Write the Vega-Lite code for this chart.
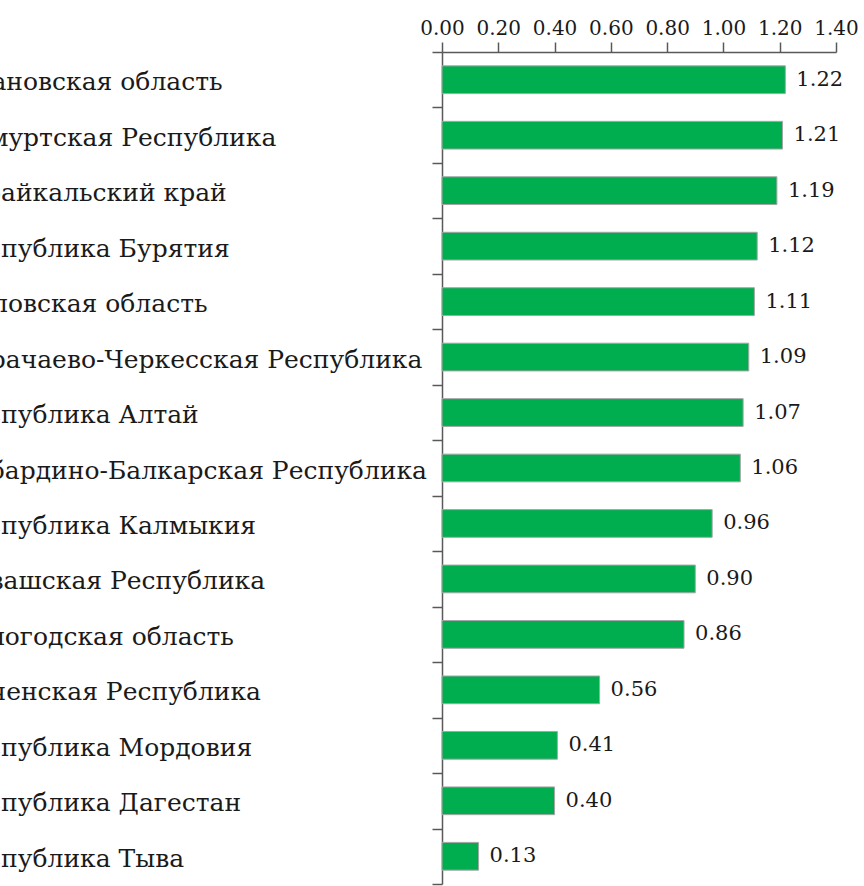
{
  "$schema": "https://vega.github.io/schema/vega-lite/v6.json",
  "width": 394,
  "height": 832,
  "autosize": {"type": "none"},
  "padding": {"left": 442, "top": 52, "right": 28, "bottom": 2},
  "background": "white",
  "data": {
    "values": [
      {"region": "Ивановская область", "value": 1.22},
      {"region": "Удмуртская Республика", "value": 1.21},
      {"region": "Забайкальский край", "value": 1.19},
      {"region": "Республика Бурятия", "value": 1.12},
      {"region": "Орловская область", "value": 1.11},
      {"region": "Карачаево-Черкесская Республика", "value": 1.09},
      {"region": "Республика Алтай", "value": 1.07},
      {"region": "Кабардино-Балкарская Республика", "value": 1.06},
      {"region": "Республика Калмыкия", "value": 0.96},
      {"region": "Чувашская Республика", "value": 0.90},
      {"region": "Вологодская область", "value": 0.86},
      {"region": "Чеченская Республика", "value": 0.56},
      {"region": "Республика Мордовия", "value": 0.41},
      {"region": "Республика Дагестан", "value": 0.40},
      {"region": "Республика Тыва", "value": 0.13}
    ]
  },
  "encoding": {
    "y": {
      "field": "region",
      "type": "nominal",
      "sort": null,
      "scale": {"paddingInner": 0, "paddingOuter": 0},
      "axis": {
        "title": null,
        "orient": "left",
        "tickBand": "extent",
        "tickSize": 10,
        "labelAlign": "left",
        "labelBaseline": "middle",
        "labelPadding": 477,
        "labelOffset": 2,
        "labelLimit": 3000,
        "labelFont": "DejaVu Serif",
        "labelFontSize": 25,
        "labelColor": "#1a1a1a",
        "domainColor": "#595959",
        "tickColor": "#595959",
        "domainWidth": 1.5,
        "tickWidth": 1.5,
        "grid": false
      }
    },
    "x": {
      "field": "value",
      "type": "quantitative",
      "scale": {"domain": [0, 1.4], "nice": false, "zero": true},
      "axis": {
        "orient": "top",
        "title": null,
        "values": [0, 0.2, 0.4, 0.6, 0.8, 1.0, 1.2, 1.4],
        "format": ".2f",
        "tickSize": 10,
        "labelFont": "DejaVu Serif",
        "labelFontSize": 20,
        "labelColor": "#1a1a1a",
        "labelPadding": 4,
        "labelFlush": false,
        "labelOverlap": false,
        "grid": false,
        "domainColor": "#595959",
        "tickColor": "#595959",
        "domainWidth": 1.5,
        "tickWidth": 1.5
      }
    }
  },
  "layer": [
    {
      "mark": {
        "type": "bar",
        "color": "#00AD4F",
        "stroke": "#a6a6a6",
        "strokeWidth": 1,
        "height": {"band": 0.5}
      }
    },
    {
      "mark": {
        "type": "text",
        "align": "left",
        "baseline": "middle",
        "dx": 11,
        "font": "DejaVu Serif",
        "fontSize": 21,
        "color": "#1a1a1a"
      },
      "encoding": {
        "text": {"field": "value", "type": "quantitative", "format": ".2f"}
      }
    }
  ],
  "config": {"view": {"stroke": null}}
}
